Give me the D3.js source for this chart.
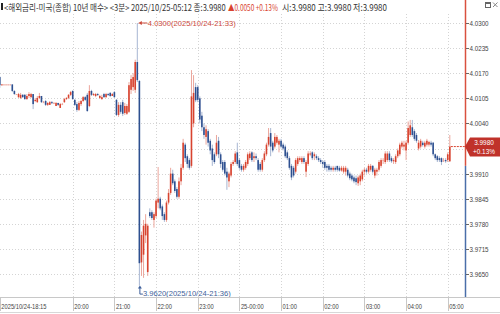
<!DOCTYPE html>
<html>
<head>
<meta charset="utf-8">
<script src="https://cdn.jsdelivr.net/npm/d3@7"></script>
<style>
  html, body { margin: 0; padding: 0; background: #fff; }
  svg { display: block; font-family: "Liberation Sans", Arial, sans-serif; }
</style>
</head>
<body>
<div id="chart"></div>
<script>
// 3-minute bars, 2025/10/24 18:15 onward
const opens = [
  4.0160,4.0139,4.0141,4.0141,4.0141,4.0141,4.0141,4.0124,4.0116,4.0108,
  4.0106,4.0114,4.0114,4.0103,4.0111,4.0108,4.0116,4.0098,4.0095,4.0106,
  4.0111,4.0095,4.0098,4.0088,4.0088,4.0095,4.0093,4.0085,4.0093,4.0080,
  4.0090,4.0095,4.0103,4.0106,4.0114,4.0124,4.0101,4.0090,4.0075,4.0090,
  4.0098,4.0108,4.0114,4.0085,4.0124,4.0114,4.0111,4.0116,4.0106,4.0103,
  4.0116,4.0108,4.0116,4.0119,4.0111,4.0121,4.0101,4.0062,4.0088,4.0095,
  4.0067,4.0065,4.0070,4.0127,4.0134,4.0127,4.0199,4.0150,3.9680,3.9700,
  3.9750,3.9655,3.9810,3.9810,3.9790,3.9800,3.9835,3.9845,3.9825,3.9805,
  3.9790,3.9835,3.9860,3.9910,3.9890,3.9870,3.9850,3.9890,3.9925,3.9985,
  3.9955,3.9945,3.9930,4.0040,4.0134,4.0134,4.0105,4.0060,4.0030,4.0005,
  4.0020,3.9995,3.9975,3.9960,3.9960,3.9995,3.9960,3.9940,3.9940,3.9915,
  3.9890,3.9905,3.9935,3.9940,3.9965,3.9945,3.9930,3.9920,3.9925,3.9935,
  3.9950,3.9965,3.9950,3.9955,3.9945,3.9935,3.9920,3.9945,3.9960,3.9985,
  4.0015,3.9990,3.9980,3.9990,3.9985,3.9995,3.9985,3.9980,3.9965,3.9950,
  3.9930,3.9925,3.9915,3.9935,3.9945,3.9940,3.9950,3.9915,3.9935,3.9960,
  3.9965,3.9955,3.9955,3.9950,3.9945,3.9940,3.9940,3.9930,3.9930,3.9925,
  3.9920,3.9925,3.9930,3.9925,3.9918,3.9915,3.9915,3.9920,3.9910,3.9905,
  3.9900,3.9898,3.9885,3.9890,3.9895,3.9915,3.9920,3.9915,3.9920,3.9930,
  3.9905,3.9915,3.9920,3.9930,3.9945,3.9940,3.9945,3.9962,3.9950,3.9942,
  3.9940,3.9955,3.9960,3.9980,3.9980,3.9970,3.9990,4.0010,4.0030,4.0020,
  4.0010,3.9975,3.9980,3.9990,3.9980,3.9985,3.9985,3.9990,3.9990,3.9960,
  3.9955,3.9950,3.9950,3.9945,3.9945,3.9945,3.9942
];
const highs = [
  4.0162,4.0141,4.0141,4.0141,4.0141,4.0141,4.0141,4.0126,4.0116,4.0119,
  4.0119,4.0116,4.0116,4.0116,4.0121,4.0119,4.0116,4.0106,4.0111,4.0119,
  4.0111,4.0098,4.0101,4.0095,4.0098,4.0098,4.0095,4.0095,4.0093,4.0093,
  4.0093,4.0106,4.0108,4.0116,4.0124,4.0126,4.0103,4.0095,4.0098,4.0101,
  4.0111,4.0111,4.0119,4.0139,4.0127,4.0119,4.0119,4.0119,4.0114,4.0114,
  4.0119,4.0119,4.0119,4.0121,4.0119,4.0124,4.0103,4.0095,4.0095,4.0101,
  4.0093,4.0090,4.0147,4.0165,4.0170,4.0205,4.0300,4.0152,3.9760,3.9790,
  3.9805,3.9780,3.9820,3.9815,3.9810,3.9845,3.9927,3.9850,3.9830,3.9810,
  3.9840,3.9870,3.9925,3.9920,3.9895,3.9875,3.9900,3.9935,4.0000,3.9990,
  3.9960,3.9950,4.0178,4.0165,4.0145,4.0139,4.0110,4.0070,4.0040,4.0035,
  4.0025,4.0000,3.9985,3.9965,4.0010,4.0005,3.9965,3.9945,3.9945,3.9925,
  3.9915,3.9940,3.9945,3.9968,3.9990,3.9950,3.9935,3.9935,3.9945,3.9965,
  3.9968,3.9968,3.9965,3.9962,3.9950,3.9940,3.9950,3.9968,3.9990,4.0028,
  4.0028,3.9995,4.0015,4.0010,4.0000,4.0000,3.9990,3.9985,3.9970,3.9955,
  3.9935,3.9930,3.9950,3.9955,3.9955,3.9955,3.9955,3.9945,3.9968,3.9968,
  3.9968,3.9965,3.9960,3.9955,3.9950,3.9945,3.9945,3.9935,3.9935,3.9930,
  3.9930,3.9930,3.9930,3.9930,3.9930,3.9930,3.9930,3.9925,3.9915,3.9910,
  3.9905,3.9905,3.9905,3.9910,3.9920,3.9925,3.9925,3.9935,3.9935,3.9932,
  3.9925,3.9925,3.9945,3.9950,3.9950,3.9968,3.9968,3.9968,3.9955,3.9950,
  3.9960,3.9975,3.9990,3.9995,3.9995,3.9995,4.0045,4.0049,4.0049,4.0025,
  4.0015,3.9997,4.0000,3.9995,3.9995,4.0000,3.9995,3.9995,3.9992,3.9962,
  3.9958,3.9955,3.9952,3.9950,3.9950,3.9965,4.0010
];
const lows = [
  4.0132,4.0139,4.0139,4.0139,4.0139,4.0139,4.0121,4.0114,4.0114,4.0106,
  4.0103,4.0106,4.0101,4.0101,4.0106,4.0106,4.0077,4.0095,4.0093,4.0103,
  4.0093,4.0093,4.0085,4.0085,4.0088,4.0090,4.0090,4.0085,4.0085,4.0080,
  4.0088,4.0093,4.0101,4.0103,4.0111,4.0101,4.0085,4.0070,4.0072,4.0085,
  4.0095,4.0098,4.0070,4.0082,4.0111,4.0111,4.0108,4.0111,4.0103,4.0101,
  4.0106,4.0106,4.0111,4.0108,4.0111,4.0106,4.0059,4.0057,4.0065,4.0059,
  4.0062,4.0062,4.0067,4.0116,4.0124,4.0119,4.0147,3.9620,3.9645,3.9640,
  3.9730,3.9645,3.9795,3.9790,3.9770,3.9795,3.9820,3.9815,3.9790,3.9785,
  3.9785,3.9830,3.9855,3.9880,3.9860,3.9845,3.9845,3.9880,3.9920,3.9940,
  3.9925,3.9920,3.9925,4.0030,4.0095,4.0095,4.0040,4.0020,4.0000,3.9985,
  3.9980,3.9960,3.9930,3.9935,3.9955,3.9950,3.9925,3.9915,3.9905,3.9868,
  3.9875,3.9900,3.9930,3.9935,3.9930,3.9920,3.9915,3.9915,3.9920,3.9930,
  3.9945,3.9940,3.9940,3.9945,3.9915,3.9915,3.9915,3.9940,3.9955,3.9980,
  3.9955,3.9965,3.9975,3.9985,3.9965,3.9975,3.9970,3.9950,3.9945,3.9920,
  3.9893,3.9900,3.9910,3.9930,3.9940,3.9935,3.9935,3.9901,3.9930,3.9955,
  3.9945,3.9945,3.9945,3.9940,3.9935,3.9925,3.9920,3.9915,3.9915,3.9915,
  3.9915,3.9915,3.9915,3.9915,3.9915,3.9910,3.9905,3.9900,3.9893,3.9890,
  3.9885,3.9880,3.9878,3.9880,3.9890,3.9905,3.9910,3.9910,3.9915,3.9910,
  3.9898,3.9905,3.9915,3.9925,3.9935,3.9935,3.9940,3.9940,3.9938,3.9935,
  3.9935,3.9950,3.9955,3.9975,3.9970,3.9945,3.9985,4.0005,4.0005,3.9995,
  3.9990,3.9970,3.9975,3.9980,3.9975,3.9980,3.9980,3.9980,3.9955,3.9945,
  3.9940,3.9940,3.9932,3.9940,3.9938,3.9940,3.9940
];
const closes = [
  4.0139,4.0141,4.0141,4.0141,4.0141,4.0141,4.0124,4.0116,4.0116,4.0116,
  4.0114,4.0108,4.0103,4.0111,4.0116,4.0116,4.0090,4.0101,4.0106,4.0111,
  4.0095,4.0095,4.0088,4.0093,4.0095,4.0093,4.0093,4.0093,4.0088,4.0090,
  4.0090,4.0103,4.0106,4.0114,4.0121,4.0103,4.0088,4.0075,4.0093,4.0098,
  4.0108,4.0101,4.0072,4.0124,4.0114,4.0116,4.0116,4.0114,4.0111,4.0108,
  4.0108,4.0116,4.0114,4.0111,4.0116,4.0108,4.0062,4.0088,4.0070,4.0065,
  4.0085,4.0085,4.0139,4.0155,4.0160,4.0199,4.0152,3.9678,3.9751,3.9775,
  3.9780,3.9775,3.9800,3.9795,3.9805,3.9840,3.9845,3.9820,3.9800,3.9790,
  3.9835,3.9860,3.9910,3.9885,3.9865,3.9850,3.9890,3.9925,3.9990,3.9950,
  3.9935,3.9925,4.0110,4.0119,4.0100,4.0101,4.0050,4.0030,4.0010,4.0025,
  3.9990,3.9970,3.9945,3.9940,3.9990,3.9960,3.9935,3.9920,3.9910,3.9900,
  3.9910,3.9935,3.9940,3.9962,3.9935,3.9925,3.9920,3.9930,3.9940,3.9960,
  3.9962,3.9945,3.9955,3.9950,3.9920,3.9920,3.9945,3.9962,3.9985,4.0005,
  3.9980,3.9970,4.0005,4.0005,3.9995,3.9980,3.9975,3.9955,3.9950,3.9925,
  3.9900,3.9905,3.9945,3.9950,3.9950,3.9950,3.9940,3.9940,3.9962,3.9962,
  3.9950,3.9960,3.9950,3.9945,3.9940,3.9935,3.9925,3.9925,3.9920,3.9920,
  3.9925,3.9920,3.9920,3.9918,3.9925,3.9925,3.9925,3.9905,3.9898,3.9895,
  3.9890,3.9888,3.9900,3.9905,3.9915,3.9920,3.9915,3.9930,3.9930,3.9915,
  3.9920,3.9920,3.9940,3.9945,3.9945,3.9962,3.9962,3.9945,3.9942,3.9945,
  3.9955,3.9970,3.9985,3.9990,3.9985,3.9990,4.0028,4.0035,4.0010,4.0000,
  3.9995,3.9990,3.9995,3.9984,3.9990,3.9995,3.9992,3.9985,3.9960,3.9950,
  3.9945,3.9945,3.9940,3.9945,3.9942,3.9960,3.9980
];

const priceTicks = [3.9650, 3.9715, 3.9780, 3.9845, 3.9910, 3.9975, 4.0040, 4.0105, 4.0170, 4.0235, 4.0300];
const basePrice = 3.9930;   // previous close
const lastPrice = 3.9980;
const lastChange = '+0.13%';
const titleMain = '<해외금리-미국(종합) 10년 매수> <3분> 2025/10/25-05:12 종:3.9980';
const titleChange = '▲0.0050 +0.13%';
const titleRest = '시:3.9980 고:3.9980 저:3.9980';

const W = 500, H = 314;
const plotR = 465, plotT = 14, plotB = 297;
const upColor = '#d8432f', upPale = '#eca69c';
const dnColor = '#2e5090', dnPale = '#a7b6d2';

const svg = d3.select('#chart').append('svg')
  .attr('width', W)
  .attr('height', H)
  .style('background-color', '#fff');

const start = new Date(2025, 9, 24, 18, 15);
const x = d3.scaleTime()
  .domain([start, d3.timeMinute.offset(start, 669)])
  .range([-0.2, 464.4]);
const y = d3.scaleLinear().domain([3.9650, 4.0300]).range([274, 23]);

const bars = closes.map((c, i) => ({
  t: d3.timeMinute.offset(start, 3 * i),
  o: opens[i], h: highs[i], l: lows[i], c: c
}));

function squeeze(sel, k) {
  sel.each(function () {
    const w = this.getComputedTextLength();
    d3.select(this).attr('textLength', w * k).attr('lengthAdjust', 'spacingAndGlyphs');
  });
}

// grid
const hours = d3.timeHour.range(new Date(2025, 9, 24, 20, 0), new Date(2025, 9, 25, 5, 1));
svg.append('g').selectAll('line')
  .data(priceTicks)
  .enter().append('line')
  .attr('x1', 0).attr('x2', plotR)
  .attr('y1', d => Math.round(y(d)) + 0.5).attr('y2', d => Math.round(y(d)) + 0.5)
  .attr('stroke', '#d4d4d4').attr('stroke-dasharray', '1,2');
svg.append('g').selectAll('line')
  .data(hours)
  .enter().append('line')
  .attr('x1', d => Math.round(x(d)) + 0.5).attr('x2', d => Math.round(x(d)) + 0.5)
  .attr('y1', plotT).attr('y2', plotB)
  .attr('stroke', '#d4d4d4').attr('stroke-dasharray', '1,2');

// candles
const candle = svg.append('g').selectAll('g')
  .data(bars)
  .enter().append('g');
candle.append('line')
  .attr('x1', d => x(d.t)).attr('x2', d => x(d.t))
  .attr('y1', d => y(d.h)).attr('y2', d => y(d.l))
  .attr('stroke', d => d.c >= d.o ? upPale : dnPale)
  .attr('stroke-width', 1);
candle.append('rect')
  .attr('x', d => x(d.t) - 0.8)
  .attr('width', 1.6)
  .attr('y', d => y(Math.max(d.o, d.c)))
  .attr('height', d => Math.max(1, Math.abs(y(d.o) - y(d.c))))
  .attr('fill', d => d.c > d.o ? upColor : (d.c < d.o ? dnColor : upPale));

// last price dashed line
const last = bars[bars.length - 1];
svg.append('line')
  .attr('x1', x(last.t) + 1).attr('x2', plotR)
  .attr('y1', y(lastPrice)).attr('y2', y(lastPrice))
  .attr('stroke', upColor).attr('stroke-dasharray', '2,1');

// high / low annotations
const fmt = d3.timeFormat('%Y/%m/%d-%H:%M');
const hi = bars[d3.maxIndex(bars, d => d.h)];
const lo = bars[d3.minIndex(bars, d => d.l)];
const hx = x(hi.t), hy = y(hi.h);
svg.append('line').attr('x1', hx + 3).attr('x2', hx + 10).attr('y1', hy).attr('y2', hy)
  .attr('stroke', '#cc4a3b');
svg.append('path').attr('d', `M${hx + 1},${hy} L${hx + 4.5},${hy - 2} L${hx + 4.5},${hy + 2} Z`)
  .attr('fill', '#cc4a3b');
svg.append('text').attr('x', hx + 10.5).attr('y', hy + 3)
  .attr('font-size', 8).attr('fill', '#cc4a3b')
  .text(`${hi.h.toFixed(4)}(${fmt(hi.t)})`)
  .call(squeeze, 0.95);

const lx = x(lo.t) + 0.5, ly = y(lo.l);
svg.append('path').attr('d', `M${lx},${ly + 2} L${lx},${ly + 8.5} L${lx + 3},${ly + 8.5}`)
  .attr('fill', 'none').attr('stroke', '#3d5f9a');
svg.append('path').attr('d', `M${lx},${ly} L${lx - 2},${ly + 3} L${lx + 2},${ly + 3} Z`)
  .attr('fill', '#3d5f9a');
svg.append('text').attr('x', lx + 3).attr('y', ly + 10.5)
  .attr('font-size', 8).attr('fill', '#3d5f9a')
  .text(`${lo.l.toFixed(4)}(${fmt(lo.t)})`)
  .call(squeeze, 0.95);

// right axis
const yBase = y(basePrice);
svg.append('line').attr('x1', plotR + 0.5).attr('x2', plotR + 0.5).attr('y1', 0).attr('y2', yBase)
  .attr('stroke', '#d9503f').attr('stroke-width', 1.5);
svg.append('line').attr('x1', plotR + 0.5).attr('x2', plotR + 0.5).attr('y1', yBase).attr('y2', plotB)
  .attr('stroke', '#4a6ea9').attr('stroke-width', 1.5);

const yLast = y(lastPrice);
const tickG = svg.append('g').selectAll('g')
  .data(priceTicks.filter(d => Math.abs(y(d) - yLast) > 10))
  .enter().append('g');
tickG.append('line')
  .attr('x1', plotR + 1).attr('x2', plotR + 4)
  .attr('y1', d => Math.round(y(d)) + 0.5).attr('y2', d => Math.round(y(d)) + 0.5)
  .attr('stroke', '#666');
tickG.append('text')
  .attr('x', plotR + 4.5).attr('y', d => y(d) + 3)
  .attr('font-size', 8).attr('fill', '#444')
  .text(d => d.toFixed(4))
  .call(squeeze, 0.78);

// last price tag
svg.append('path')
  .attr('d', `M${plotR},${yLast} L${plotR + 5},${yLast - 9} L${W},${yLast - 9} L${W},${yLast + 10} L${plotR + 5},${yLast + 10} Z`)
  .attr('fill', '#c0322a');
svg.append('text').attr('x', 484).attr('y', yLast - 1.5)
  .attr('text-anchor', 'middle').attr('font-size', 8).attr('fill', '#fff')
  .text(lastPrice.toFixed(4)).call(squeeze, 0.8);
svg.append('text').attr('x', 484).attr('y', yLast + 7)
  .attr('text-anchor', 'middle').attr('font-size', 8).attr('fill', '#fff')
  .text(lastChange).call(squeeze, 0.8);

// bottom axis
svg.append('line').attr('x1', 0).attr('x2', W).attr('y1', plotB + 0.5).attr('y2', plotB + 0.5)
  .attr('stroke', '#c8c8c8');
svg.append('line').attr('x1', 0).attr('x2', W).attr('y1', H - 1.5).attr('y2', H - 1.5)
  .attr('stroke', '#d8d8d8');
const xTicks = [start].concat(hours);
const fmtTick = d => d === start ? d3.timeFormat('%Y/%m/%d-%H:%M')(d)
  : (d.getHours() === 0 ? d3.timeFormat('%d-%H:%M')(d) : d3.timeFormat('%H:%M')(d));
const xg = svg.append('g').selectAll('g')
  .data(xTicks)
  .enter().append('g');
xg.append('line')
  .attr('x1', d => Math.max(0.5, Math.round(x(d)) + 0.5)).attr('x2', d => Math.max(0.5, Math.round(x(d)) + 0.5))
  .attr('y1', plotB).attr('y2', H - 3)
  .attr('stroke', '#c8c8c8');
xg.append('text')
  .attr('x', d => Math.max(1, x(d) + 1.5)).attr('y', 309)
  .attr('font-size', 8).attr('fill', '#444')
  .text(fmtTick)
  .call(squeeze, 0.72);

// title bar: each piece is scaled horizontally to its slot width
svg.append('rect').attr('x', 1).attr('y', 3).attr('width', 2).attr('height', 7).attr('fill', '#222');
const titleFont = '"Noto Sans CJK KR", sans-serif';
[[titleMain, 4, 222, '#333'], [titleChange, 228, 50, '#d8432f'], [titleRest, 282, 105, '#333']]
  .forEach(([s, tx, tw, col]) => {
    const t = svg.append('text')
      .attr('x', 0).attr('y', 0)
      .attr('font-family', titleFont)
      .attr('font-size', 9).attr('fill', col)
      .text(s);
    const k = tw / t.node().getComputedTextLength();
    t.attr('transform', `translate(${tx},10.5) scale(${k},1)`);
  });

// window icons
svg.append('rect').attr('x', 485.5).attr('y', 2.5).attr('width', 5).attr('height', 5)
  .attr('fill', 'none').attr('stroke', '#666');
svg.append('rect').attr('x', 485.5).attr('y', 2.5).attr('width', 5).attr('height', 1.5).attr('fill', '#666');
svg.append('path').attr('d', 'M493,2.5 L497.5,7 M497.5,2.5 L493,7')
  .attr('stroke', '#888').attr('fill', 'none');
</script>
</body>
</html>
